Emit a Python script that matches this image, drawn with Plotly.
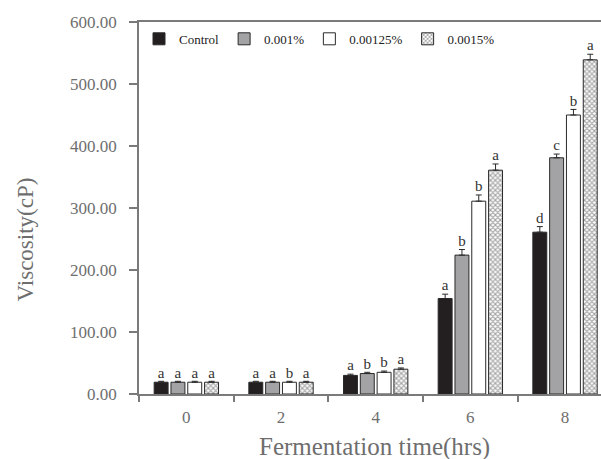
import plotly.graph_objects as go

times = ["0", "2", "4", "6", "8"]
series_names = ["Control", "0.001%", "0.00125%", "0.0015%"]
values = [
    [19, 19, 30, 154, 261],
    [19, 19, 33, 224, 381],
    [19, 19, 35, 311, 450],
    [19, 19, 40, 361, 539],
]
errors = [
    [1.5, 1.5, 2, 7, 9],
    [1.5, 1.5, 2, 9, 6],
    [1.5, 1.5, 2, 10, 9],
    [1.5, 1.5, 2, 10, 9],
]
letters = [
    ["a", "a", "a", "a", "d"],
    ["a", "a", "b", "b", "c"],
    ["a", "b", "b", "b", "b"],
    ["a", "a", "a", "a", "a"],
]
y_ticks = [0, 100, 200, 300, 400, 500, 600]

fills = ["#231f20", "#a3a3a5", "#ffffff", "#ffffff"]
SERIF = "Liberation Serif, Times New Roman, serif"
AXIS = "#7a7a7a"
TICKC = "#6e6e6e"

fig = go.Figure()
for i, name in enumerate(series_names):
    marker = dict(color=fills[i], line=dict(color="#2a2a2a", width=1))
    if i == 3:
        marker["pattern"] = dict(shape="x", size=3.5, solidity=0.5,
                                 fgcolor="#3a3a3a", bgcolor="#ffffff")
    fig.add_trace(go.Bar(
        x=times, y=values[i], name=name, marker=marker,
        error_y=dict(type="data", array=errors[i], arrayminus=[0]*5,
                     symmetric=False, color="#2a2a2a", thickness=1, width=3),
    ))
for i, name in enumerate(series_names):
    fig.add_trace(go.Scatter(
        x=times, y=[v + e for v, e in zip(values[i], errors[i])],
        mode="text", text=letters[i], textposition="top center",
        textfont=dict(family=SERIF, size=15, color="#333333"),
        showlegend=False, hoverinfo="skip", cliponaxis=False,
    ))

fig.update_layout(
    width=601, height=459,
    margin=dict(l=139, r=0, t=22, b=65, autoexpand=False),
    paper_bgcolor="white", plot_bgcolor="white",
    barmode="group", bargap=0.29, bargroupgap=0.17,
    scattermode="group", scattergap=0.29,
    font=dict(family=SERIF, color="#333333"),
    legend=dict(orientation="h", x=0.0, y=0.995, xanchor="left", yanchor="top",
                bgcolor="rgba(0,0,0,0)", font=dict(family=SERIF, size=13, color="#222222"),
                itemwidth=30, tracegroupgap=0),
    showlegend=True,
)
fig.update_xaxes(
    type="category", range=[-0.5, 4.38], automargin=False,
    showline=True, linecolor=AXIS, linewidth=1.5, mirror=True,
    ticks="outside", tickson="boundaries", ticklen=6, tickcolor=AXIS, tickwidth=1.5,
    tickfont=dict(family=SERIF, size=17, color=TICKC), ticklabelstandoff=7,
    showgrid=False, zeroline=False,
)
fig.update_yaxes(
    range=[0, 600], tickvals=y_ticks, tickformat=".2f", automargin=False,
    showline=True, linecolor=AXIS, linewidth=1.5,
    ticks="outside", ticklen=8, tickcolor=AXIS, tickwidth=1.5,
    tickfont=dict(family=SERIF, size=17, color=TICKC), ticklabelstandoff=9,
    showgrid=False, zeroline=False,
)
fig.add_annotation(
    text="Viscosity(cP)", textangle=-90, xref="paper", yref="paper",
    x=-0.245, y=0.415, xanchor="center", yanchor="middle", showarrow=False,
    font=dict(family=SERIF, size=23, color=TICKC),
)
fig.add_annotation(
    text="Fermentation time(hrs)", xref="paper", yref="paper",
    x=0.51, y=-0.143, xanchor="center", yanchor="middle", showarrow=False,
    font=dict(family=SERIF, size=25, color=TICKC),
)
fig.write_html("out.html", config={"displayModeBar": False},
               post_script="document.body.style.margin='0';document.body.style.overflow='hidden';")
